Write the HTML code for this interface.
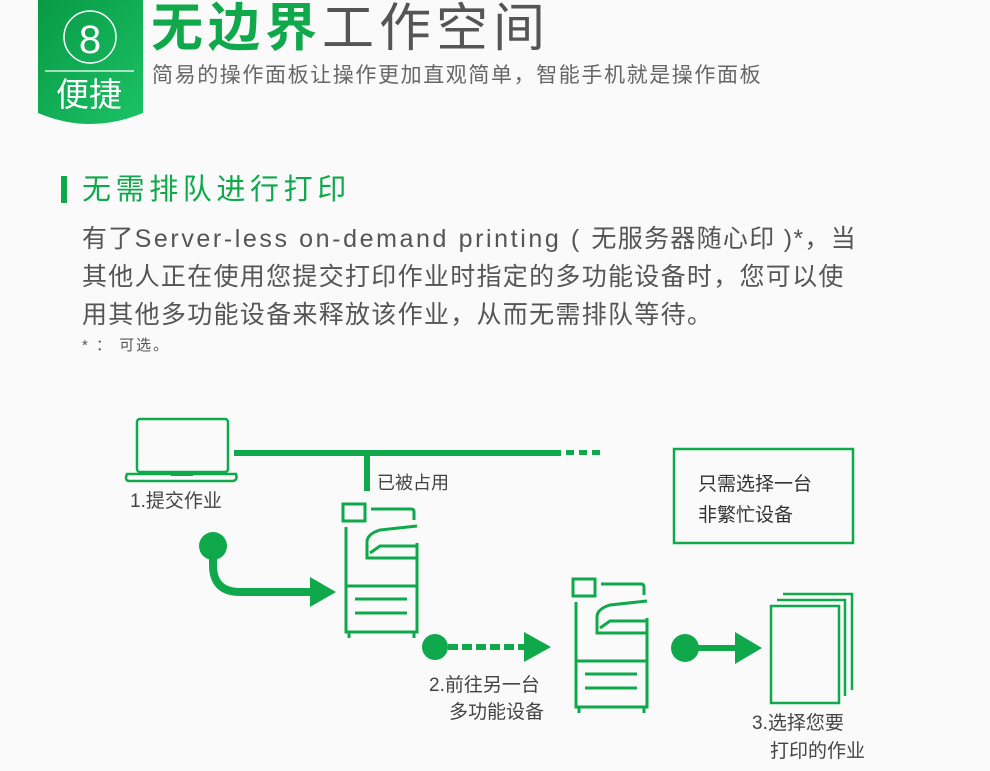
<!DOCTYPE html>
<html><head><meta charset="utf-8"><style>
body{margin:0;width:990px;height:771px;background:#fafafa;position:relative;overflow:hidden;font-family:"Liberation Sans","Noto Sans CJK SC",sans-serif}
.t{position:absolute;white-space:nowrap;line-height:1}
</style></head><body>
<svg width="990" height="771" style="position:absolute;left:0;top:0">
<defs><linearGradient id="g" x1="0" y1="0" x2="1" y2="1"><stop offset="0" stop-color="#079a44"/><stop offset="1" stop-color="#1cc266"/></linearGradient></defs>
<path d="M38 0H143V113Q90 135 38 113Z" fill="url(#g)"/>
<circle cx="90" cy="37" r="26" fill="none" stroke="#fff" stroke-width="1.5"/>
<line x1="45" y1="71" x2="134" y2="71" stroke="#fff" stroke-width="1.2"/>
<rect x="61" y="176" width="6" height="27" fill="#0fa94c"/>
<g fill="none" stroke="#0fa94c" stroke-width="2.5">
<rect x="137" y="419" width="91" height="53" rx="3"/>
<path d="M127 474H236Q238 481 232 481H130Q124 481 127 474Z"/>
<rect x="674" y="449" width="179" height="94"/>
</g>
<rect x="171" y="473" width="22" height="3" fill="#0fa94c"/>
<rect x="234" y="450" width="327" height="6" fill="#0fa94c"/>
<rect x="566" y="450" width="8" height="5" fill="#0fa94c"/>
<rect x="579" y="450" width="8" height="5" fill="#0fa94c"/>
<rect x="592" y="450" width="8" height="5" fill="#0fa94c"/>
<rect x="364" y="453" width="6" height="38" fill="#0fa94c"/>
<g id="p" fill="none" stroke="#0fa94c" stroke-width="3">
<rect x="343" y="504" width="22" height="17"/>
<path d="M371 509H411Q414 509 414 512V520"/>
<path d="M346 527V632H417V543"/>
<path d="M346 586H417"/>
<path d="M417 526L380 530Q367 534 367 542V558H417"/>
<path d="M370 553L380 546H417"/>
<path d="M355 599H407M355 613H407"/>
<path d="M349 632V638M414 632V638"/>
</g>
<use href="#p" x="230" y="75"/>
<circle cx="213" cy="546" r="14" fill="#0fa94c"/>
<path d="M213 550V565Q213 592 240 592H312" fill="none" stroke="#0fa94c" stroke-width="8"/>
<path d="M310 577L336 592L310 607Z" fill="#0fa94c"/>
<circle cx="435" cy="647" r="13" fill="#0fa94c"/>
<g fill="#0fa94c"><rect x="448" y="644" width="10" height="6"/><rect x="462" y="644" width="10" height="6"/><rect x="476" y="644" width="10" height="6"/><rect x="490" y="644" width="10" height="6"/><rect x="504" y="644" width="10" height="6"/><rect x="518" y="644" width="8" height="6"/></g>
<path d="M524 632L551 647L524 662Z" fill="#0fa94c"/>
<circle cx="685" cy="648" r="14" fill="#0fa94c"/>
<rect x="690" y="645" width="48" height="6" fill="#0fa94c"/>
<path d="M735 632L762 648L735 664Z" fill="#0fa94c"/>
<g fill="none" stroke="#0fa94c" stroke-width="2.5">
<rect x="771" y="606" width="68" height="97"/>
<path d="M777 600H845V696M783 594H852V690"/>
</g>
</svg>
<div class="t" style="left:66px;top:20px;color:#fff;font-size:40px;width:48px;text-align:center">8</div>
<div class="t" style="left:56px;top:78px;color:#fff;font-size:33px">便捷</div>
<div class="t" style="left:151px;top:3px;font-size:52px;color:#0fa94c;font-weight:bold;letter-spacing:5px">无边界<span style="color:#555;font-weight:normal">工作空间</span></div>
<div class="t" style="left:152px;top:65px;font-size:21px;color:#666;letter-spacing:1.6px">简易的操作面板让操作更加直观简单，智能手机就是操作面板</div>
<div class="t" style="left:82px;top:176px;font-size:29px;color:#0fa94c;letter-spacing:4.6px">无需排队进行打印</div>
<div class="t" style="left:82px;top:220px;font-size:25px;color:#555;letter-spacing:1.3px;line-height:38px;white-space:normal;width:850px">有了<span style="letter-spacing:2.6px">Server-less on-demand printing ( </span>无服务器随心印 )*，当<br>其他人正在使用您提交打印作业时指定的多功能设备时，您可以使<br>用其他多功能设备来释放该作业，从而无需排队等待。</div>
<div class="t" style="left:82px;top:338px;font-size:15px;color:#555;letter-spacing:2px">* ： 可选。</div>
<div class="t" style="left:130px;top:492px;font-size:19px;color:#444">1.提交作业</div>
<div class="t" style="left:377px;top:474px;font-size:18px;color:#444">已被占用</div>
<div class="t" style="left:698px;top:469px;font-size:19px;color:#333;line-height:31px">只需选择一台<br>非繁忙设备</div>
<div class="t" style="left:429px;top:676px;font-size:19px;color:#444">2.前往另一台</div>
<div class="t" style="left:449px;top:703px;font-size:19px;color:#444">多功能设备</div>
<div class="t" style="left:752px;top:714px;font-size:19px;color:#444">3.选择您要</div>
<div class="t" style="left:770px;top:742px;font-size:19px;color:#444">打印的作业</div>
</body></html>
